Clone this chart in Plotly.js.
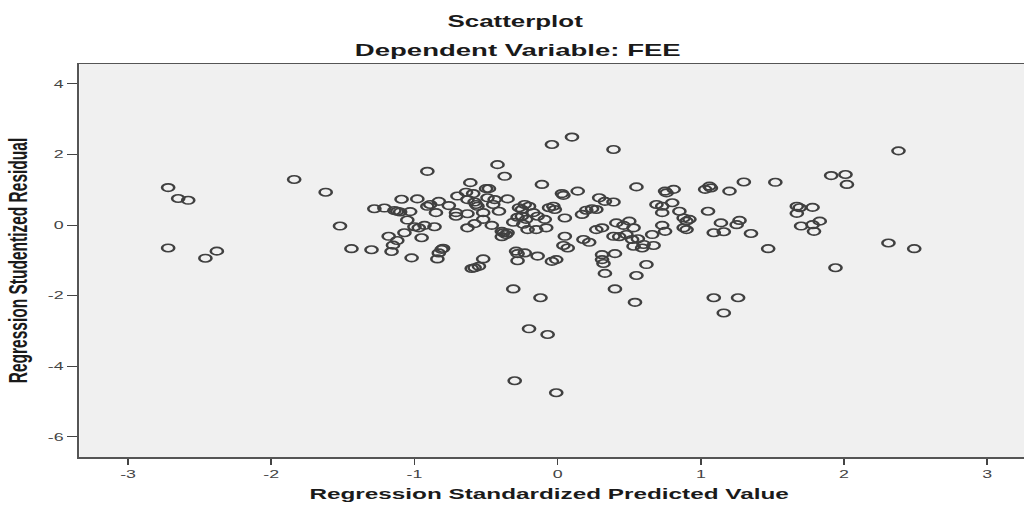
<!DOCTYPE html>
<html>
<head>
<meta charset="utf-8">
<script src="https://cdn.plot.ly/plotly-3.0.1.min.js"></script>
<style>
html,body{margin:0;padding:0;overflow:hidden;background:#fff;width:1024px;height:506px;}
#wrap{width:1024px;height:506px;overflow:hidden;position:relative;}
#chart{position:absolute;left:0;top:0;width:660px;height:506px;transform:scaleX(1.62);transform-origin:0 0;}
</style>
</head>
<body>
<div id="wrap"><div id="chart"></div></div>
<script>
const predictedValue = [
-2.72,-2.65,-2.58,-2.72,-2.46,-2.38,-1.84,-1.62,-1.52,-1.44,
-1.30,-1.28,-1.21,-1.18,-1.15,-1.16,-1.14,-1.12,-1.10,-1.09,
-1.05,-1.03,-1.07,-1.12,-1.02,-1.00,-0.98,-0.95,-0.97,-0.93,
-0.91,-0.89,-0.86,-0.84,-0.83,-0.81,-0.80,-0.83,-0.85,-0.91,
-0.76,-0.71,-0.71,-0.70,-0.63,-0.61,-0.64,-0.63,-0.63,-0.58,
-0.57,-0.56,-0.59,-0.58,-0.55,-0.58,-0.60,-0.52,-0.52,-0.52,
-0.50,-0.48,-0.49,-0.46,-0.45,-0.44,-0.42,-0.41,-0.39,-0.38,
-0.36,-0.35,-0.37,-0.35,-0.39,-0.31,-0.28,-0.27,-0.25,-0.29,
-0.28,-0.28,-0.11,-0.04,0.10,0.39,0.14,0.03,0.04,0.55,
-0.23,-0.20,-0.25,-0.22,-0.17,-0.14,-0.09,-0.06,-0.03,-0.21,
-0.15,-0.08,-0.24,0.05,-0.02,0.05,0.04,0.07,-0.23,-0.14,
-0.04,-0.01,0.17,0.20,0.24,0.27,0.29,0.33,0.39,0.27,
0.31,0.18,0.22,0.31,0.31,0.32,0.40,0.33,0.41,0.46,
0.50,0.53,0.39,0.43,0.48,0.52,0.56,0.60,0.67,0.66,
0.73,0.75,0.53,0.59,0.62,0.55,0.69,0.73,0.73,0.80,
0.81,0.75,0.76,0.85,0.88,0.90,0.92,0.88,0.90,1.03,
1.06,1.07,1.05,1.09,1.20,1.30,1.52,1.14,1.25,1.27,
1.16,1.35,1.47,1.67,1.69,1.78,1.67,1.83,1.78,1.70,
1.79,1.91,2.01,2.02,2.38,2.31,2.49,1.94,-0.31,-0.12,
-0.20,-0.07,-0.30,-0.01,0.40,0.54,1.09,1.26,1.16
];
const studentizedResidual = [
1.06,0.75,0.70,-0.65,-0.94,-0.74,1.29,0.93,-0.03,-0.67,
-0.70,0.46,0.48,-0.32,-0.57,-0.75,0.41,0.39,0.37,0.73,
0.14,0.38,-0.22,-0.44,-0.93,-0.05,0.74,-0.36,-0.08,-0.01,
1.52,0.58,-0.05,-0.96,-0.79,-0.69,-0.66,0.67,0.35,0.53,
0.55,0.35,0.25,0.82,-0.08,1.20,0.93,0.72,0.32,0.65,
0.58,0.53,0.89,0.04,-1.17,-1.21,-1.23,-0.96,0.16,0.35,
1.03,1.03,0.77,-0.01,0.58,0.72,1.71,0.39,-0.18,-0.22,
-0.27,-0.22,1.38,0.74,-0.33,0.08,0.22,0.49,0.44,-0.74,
-0.81,-1.01,1.15,2.28,2.49,2.14,0.96,0.89,0.84,1.08,
0.58,0.53,0.25,0.16,0.35,0.25,0.16,0.49,0.53,-0.13,
-0.13,-0.08,0.02,0.20,0.44,-0.32,-0.58,-0.65,-0.79,-0.88,
-1.03,-0.98,0.30,0.42,0.46,0.44,0.77,0.67,0.65,-0.13,
-0.08,-0.41,-0.49,-0.84,-0.98,-1.09,-0.81,-1.37,0.06,-0.01,
0.11,-0.08,-0.32,-0.33,-0.27,-0.41,-0.39,-0.55,-0.58,-0.27,
-0.01,-0.18,-0.60,-0.65,-1.12,-1.43,0.58,0.53,0.35,0.63,
1.01,0.96,0.91,0.39,0.20,0.11,0.16,-0.08,-0.13,1.01,
1.10,1.05,0.39,-0.22,0.96,1.22,1.21,0.06,0.01,0.13,
-0.19,-0.24,-0.67,0.53,0.49,0.50,0.33,0.11,0.01,-0.03,
-0.18,1.40,1.43,1.15,2.10,-0.51,-0.67,-1.21,-1.81,-2.06,
-2.94,-3.10,-4.41,-4.75,-1.81,-2.19,-2.06,-2.06,-2.49
];
const xTickVals = [-3,-2,-1,0,1,2,3];
const xTickText = ['-3','-2','-1','0','1','2','3'];
const yTickVals = [4,2,0,-2,-4,-6];
const yTickText = ['4','2','0','-2','-4','-6'];

const FONT = '"Liberation Sans", Arial, sans-serif';
const W = 660, L = 49, R = 10, T = 64, B = 49, H = 506;
const plotW = W - L - R, plotH = H - T - B;
const SX = 1.62;

const trace = {
  type: 'scatter',
  mode: 'markers',
  x: predictedValue,
  y: studentizedResidual,
  marker: {symbol: 'circle-open', size: 7.5, color: '#404040', line: {width: 1.6, color: '#404040'}},
  hoverinfo: 'x+y'
};

const layout = {
  width: W, height: H,
  margin: {l: L, r: R, t: T, b: B},
  paper_bgcolor: '#ffffff',
  plot_bgcolor: '#f0f0f0',
  showlegend: false,
  title: {
    text: 'Scatterplot',
    font: {family: FONT, size: 16, color: '#1a1a1a', weight: 'bold'},
    xref: 'container', x: 318/W, xanchor: 'center',
    yref: 'container', y: 1 - 21/H, yanchor: 'middle'
  },
  annotations: [{
    text: 'Dependent Variable: FEE',
    font: {family: FONT, size: 17, color: '#1a1a1a', weight: 'bold'},
    xref: 'paper', yref: 'paper', x: (319 - L)/plotW, y: 1 + 14/plotH,
    xanchor: 'center', yanchor: 'middle', showarrow: false
  }, {
    text: 'Regression Standardized Predicted Value',
    font: {family: FONT, size: 15, color: '#1a1a1a', weight: 'bold'},
    xref: 'paper', yref: 'paper', x: (549/SX - L)/plotW, y: -36/plotH,
    xanchor: 'center', yanchor: 'middle', showarrow: false
  }],
  xaxis: {
    range: [-3.34, -3.34 + plotW*SX/143.2],
    tickvals: xTickVals, ticktext: xTickText,
    ticks: 'outside', ticklen: 6, tickwidth: 1, tickcolor: '#444',
    tickfont: {family: FONT, size: 11, color: '#444'},
    showgrid: false, zeroline: false,
    showline: true, linecolor: '#555', linewidth: 1.5, mirror: true
  },
  yaxis: {
    range: [-6.57, 4.56],
    tickvals: yTickVals, ticktext: yTickText,
    ticks: 'outside', ticklen: 6, tickwidth: 1, tickcolor: '#444',
    tickfont: {family: FONT, size: 11, color: '#444'},
    showgrid: false, zeroline: false,
    showline: true, linecolor: '#555', linewidth: 1.5, mirror: true,
    title: {text: 'Regression Studentized Residual', standoff: 8,
            font: {family: FONT, size: 15.5, color: '#1a1a1a', weight: 'bold'}}
  }
};

Plotly.newPlot('chart', [trace], layout, {displayModeBar: false, staticPlot: true});
</script>
</body>
</html>
